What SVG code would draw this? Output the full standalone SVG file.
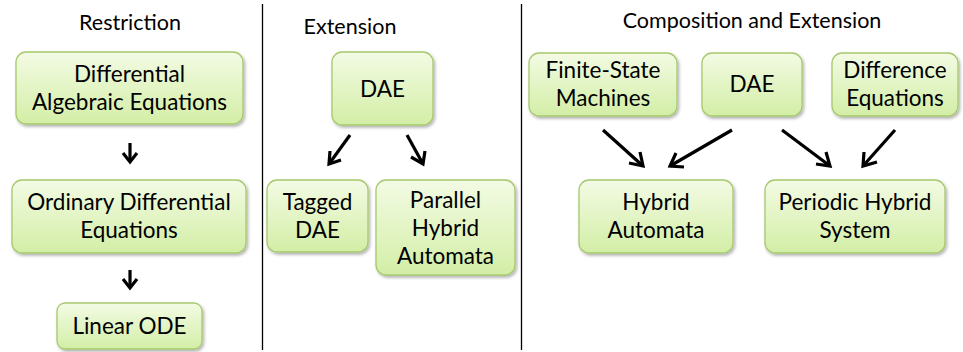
<svg xmlns="http://www.w3.org/2000/svg" width="963" height="352" viewBox="0 0 963 352">
<defs>
<linearGradient id="g" x1="0" y1="0" x2="0" y2="1">
<stop offset="0" stop-color="#f3fbe4"/>
<stop offset="1" stop-color="#d3eea6"/>
</linearGradient>
<filter id="sh" x="-10%" y="-10%" width="125%" height="130%">
<feDropShadow dx="1.5" dy="2" stdDeviation="1.5" flood-color="#000" flood-opacity="0.3"/>
</filter>
</defs>
<style>
.box{fill:url(#g);stroke:#a6c96e;stroke-width:1.3;filter:url(#sh)}
.t{font-family:Lato,"Open Sans",sans-serif;font-size:22.5px;fill:#000;text-anchor:middle}
.h{font-family:Lato,"Open Sans",sans-serif;font-size:21.5px;fill:#000;text-anchor:middle}
.a{stroke:#000;stroke-width:3.2;fill:none;stroke-linecap:butt;stroke-linejoin:miter}
.d{stroke:#000;stroke-width:1.3}
</style>
<rect width="963" height="352" fill="#fff"/>
<g id="dividers">
<line class="d" x1="262.5" y1="4" x2="262.5" y2="350"/>
<line class="d" x1="521.5" y1="4" x2="521.5" y2="350"/>
</g>
<g id="titles">
<text class="h" x="130" y="30">Restriction</text>
<text class="h" x="350" y="34">Extension</text>
<text class="h" x="752" y="28">Composition and Extension</text>
</g>
<g id="n1"><rect class="box" x="16" y="52" width="227" height="72" rx="10"/><text class="t" x="129.5" y="82">Differential</text><text class="t" x="129.5" y="110">Algebraic Equations</text></g>
<g id="n2"><rect class="box" x="12" y="180" width="234" height="73" rx="10"/><text class="t" x="129" y="210">Ordinary Differential</text><text class="t" x="129" y="238">Equations</text></g>
<g id="n3"><rect class="box" x="57" y="303" width="145" height="46" rx="8"/><text class="t" x="129.5" y="334">Linear ODE</text></g>
<g id="n4"><rect class="box" x="332" y="52" width="101" height="73" rx="10"/><text class="t" x="382.5" y="97">DAE</text></g>
<g id="n5"><rect class="box" x="267" y="180" width="101" height="72" rx="10"/><text class="t" x="317.5" y="210">Tagged</text><text class="t" x="317.5" y="238">DAE</text></g>
<g id="n6"><rect class="box" x="376" y="180" width="139" height="95" rx="10"/><text class="t" x="445.5" y="208">Parallel</text><text class="t" x="445.5" y="236">Hybrid</text><text class="t" x="445.5" y="264">Automata</text></g>
<g id="n7"><rect class="box" x="529" y="53" width="148" height="63" rx="10"/><text class="t" x="603" y="78">Finite-State</text><text class="t" x="603" y="106">Machines</text></g>
<g id="n8"><rect class="box" x="702" y="53" width="100" height="63" rx="10"/><text class="t" x="752" y="92">DAE</text></g>
<g id="n9"><rect class="box" x="832" y="53" width="126" height="63" rx="10"/><text class="t" x="895" y="78">Difference</text><text class="t" x="895" y="106">Equations</text></g>
<g id="n10"><rect class="box" x="579" y="180" width="154" height="73" rx="10"/><text class="t" x="656" y="210">Hybrid</text><text class="t" x="656" y="238">Automata</text></g>
<g id="n11"><rect class="box" x="765" y="180" width="180" height="73" rx="10"/><text class="t" x="855" y="210">Periodic Hybrid</text><text class="t" x="855" y="238">System</text></g>
<g id="connectors">
<line class="a" x1="130" y1="143" x2="130" y2="162"/><polyline class="a" points="123,153 130,162 137,153"/>
<line class="a" x1="130" y1="270" x2="130" y2="288"/><polyline class="a" points="123,279 130,288 137,279"/>
<line class="a" x1="350" y1="135" x2="329" y2="164"/><polyline class="a" points="330,151 329,164 341,160"/>
<line class="a" x1="407" y1="135" x2="423" y2="164"/><polyline class="a" points="411,157 423,164 425,151"/>
<line class="a" x1="603" y1="130" x2="643" y2="166"/><polyline class="a" points="629,163 643,166 640,152"/>
<line class="a" x1="732" y1="130" x2="670" y2="166"/><polyline class="a" points="676,153 670,166 684,167"/>
<line class="a" x1="782" y1="130" x2="830" y2="166"/><polyline class="a" points="816,164 830,166 826,152"/>
<line class="a" x1="895" y1="130" x2="863" y2="166"/><polyline class="a" points="864,152 863,166 877,162"/>
</g>
</svg>
